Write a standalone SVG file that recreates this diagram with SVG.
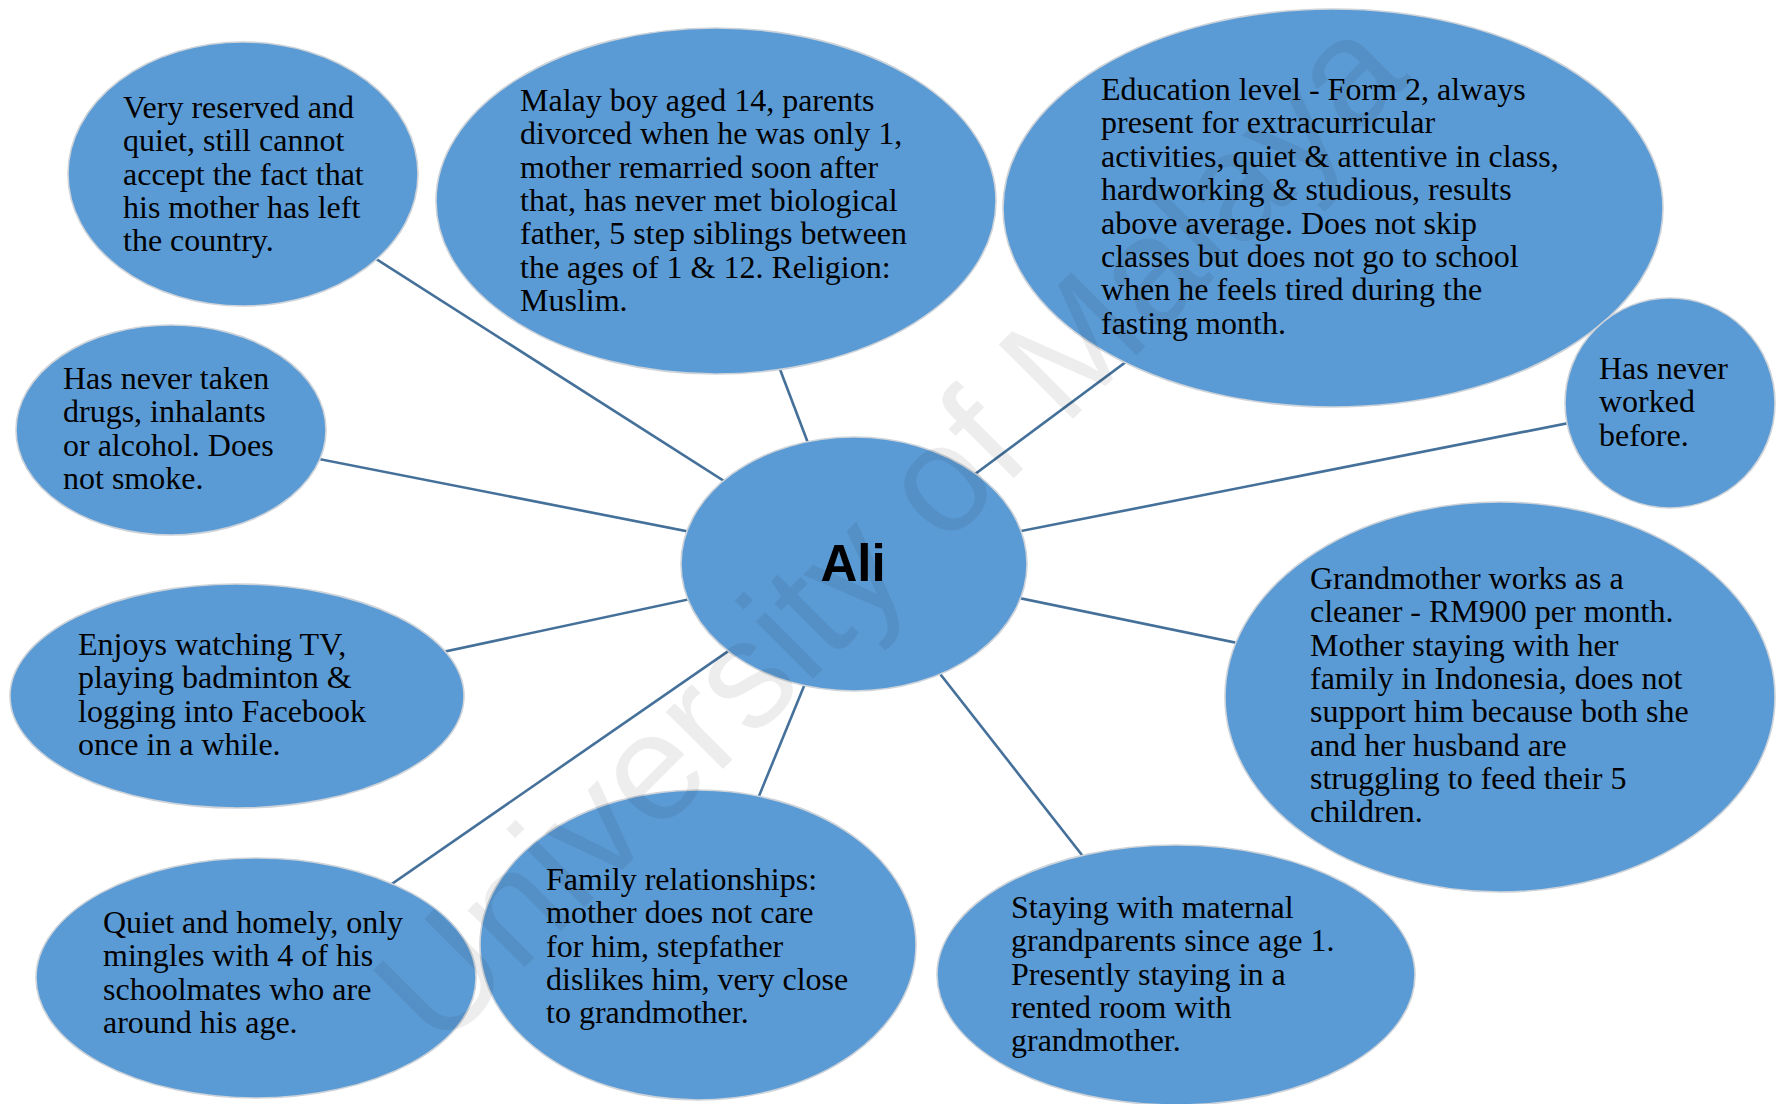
<svg xmlns="http://www.w3.org/2000/svg" width="1779" height="1104" viewBox="0 0 1779 1104">
  <style>
    .bubble { fill: #5b9bd5; stroke: #cdd3d9; stroke-width: 1.6; }
    .link { stroke: #44709a; stroke-width: 2.6; fill: none; }
    .t { font-family: "Liberation Serif", "Times New Roman", serif; font-size: 32px; fill: #000; }
    .hub { font-family: "Liberation Sans", Arial, sans-serif; font-size: 51px; font-weight: bold; fill: #000; }
    .mark { font-family: "Liberation Sans", Arial, sans-serif; font-size: 153px; fill: #000; fill-opacity: 0.07; }
  </style>
  <rect width="1779" height="1104" fill="#fff"/>

  <!-- spokes: centre of each bubble to the hub centre -->
  <g id="connectors">
    <line class="link" x1="243" y1="174" x2="854" y2="564"/>
    <line class="link" x1="716" y1="201" x2="854" y2="564"/>
    <line class="link" x1="1333" y1="208" x2="854" y2="564"/>
    <line class="link" x1="1670" y1="403" x2="854" y2="564"/>
    <line class="link" x1="171" y1="430" x2="854" y2="564"/>
    <line class="link" x1="237" y1="696" x2="854" y2="564"/>
    <line class="link" x1="1500" y1="697" x2="854" y2="564"/>
    <line class="link" x1="256" y1="978" x2="854" y2="564"/>
    <line class="link" x1="698" y1="945" x2="854" y2="564"/>
    <line class="link" x1="1176" y1="975" x2="854" y2="564"/>
  </g>

  <g id="node-reserved">
    <ellipse class="bubble" cx="243" cy="174" rx="175" ry="132"/>
    <text class="t" x="123" y="118">Very reserved and<tspan x="123" dy="33.3">quiet, still cannot</tspan><tspan x="123" dy="33.3">accept the fact that</tspan><tspan x="123" dy="33.3">his mother has left</tspan><tspan x="123" dy="33.3">the country.</tspan></text>
  </g>

  <g id="node-background">
    <ellipse class="bubble" cx="716" cy="201" rx="280" ry="173"/>
    <text class="t" x="520" y="111">Malay boy aged 14, parents<tspan x="520" dy="33.3">divorced when he was only 1,</tspan><tspan x="520" dy="33.3">mother remarried soon after</tspan><tspan x="520" dy="33.3">that, has never met biological</tspan><tspan x="520" dy="33.3">father, 5 step siblings between</tspan><tspan x="520" dy="33.3">the ages of 1 &amp; 12. Religion:</tspan><tspan x="520" dy="33.3">Muslim.</tspan></text>
  </g>

  <g id="node-education">
    <ellipse class="bubble" cx="1333" cy="208" rx="330" ry="199"/>
    <text class="t" x="1101" y="100">Education level - Form 2, always<tspan x="1101" dy="33.4">present for extracurricular</tspan><tspan x="1101" dy="33.4">activities, quiet &amp; attentive in class,</tspan><tspan x="1101" dy="33.4">hardworking &amp; studious, results</tspan><tspan x="1101" dy="33.4">above average. Does not skip</tspan><tspan x="1101" dy="33.4">classes but does not go to school</tspan><tspan x="1101" dy="33.4">when he feels tired during the</tspan><tspan x="1101" dy="33.4">fasting month.</tspan></text>
  </g>

  <g id="node-work">
    <ellipse class="bubble" cx="1670" cy="403" rx="105" ry="105"/>
    <text class="t" x="1599" y="379">Has never<tspan x="1599" dy="33.3">worked</tspan><tspan x="1599" dy="33.3">before.</tspan></text>
  </g>

  <g id="node-substances">
    <ellipse class="bubble" cx="171" cy="430" rx="155" ry="105"/>
    <text class="t" x="63" y="389">Has never taken<tspan x="63" dy="33.3">drugs, inhalants</tspan><tspan x="63" dy="33.3">or alcohol. Does</tspan><tspan x="63" dy="33.3">not smoke.</tspan></text>
  </g>

  <g id="node-ali">
    <ellipse class="bubble" cx="854" cy="564" rx="173" ry="127"/>
    <text class="hub" x="853" y="581" text-anchor="middle">Ali</text>
  </g>

  <g id="node-hobbies">
    <ellipse class="bubble" cx="237" cy="696" rx="227" ry="112"/>
    <text class="t" x="78" y="655">Enjoys watching TV,<tspan x="78" dy="33.3">playing badminton &amp;</tspan><tspan x="78" dy="33.3">logging into Facebook</tspan><tspan x="78" dy="33.3">once in a while.</tspan></text>
  </g>

  <g id="node-finances">
    <ellipse class="bubble" cx="1500" cy="697" rx="275" ry="195"/>
    <text class="t" x="1310" y="589">Grandmother works as a<tspan x="1310" dy="33.3">cleaner - RM900 per month.</tspan><tspan x="1310" dy="33.3">Mother staying with her</tspan><tspan x="1310" dy="33.3">family in Indonesia, does not</tspan><tspan x="1310" dy="33.3">support him because both she</tspan><tspan x="1310" dy="33.3">and her husband are</tspan><tspan x="1310" dy="33.3">struggling to feed their 5</tspan><tspan x="1310" dy="33.3">children.</tspan></text>
  </g>

  <g id="node-friends">
    <ellipse class="bubble" cx="256" cy="978" rx="220" ry="120"/>
    <text class="t" x="103" y="933">Quiet and homely, only<tspan x="103" dy="33.3">mingles with 4 of his</tspan><tspan x="103" dy="33.3">schoolmates who are</tspan><tspan x="103" dy="33.3">around his age.</tspan></text>
  </g>

  <g id="node-family">
    <ellipse class="bubble" cx="698" cy="945" rx="218" ry="155"/>
    <text class="t" x="546" y="890">Family relationships:<tspan x="546" dy="33.3">mother does not care</tspan><tspan x="546" dy="33.3">for him, stepfather</tspan><tspan x="546" dy="33.3">dislikes him, very close</tspan><tspan x="546" dy="33.3">to grandmother.</tspan></text>
  </g>

  <g id="node-living">
    <ellipse class="bubble" cx="1176" cy="975" rx="239" ry="130"/>
    <text class="t" x="1011" y="918">Staying with maternal<tspan x="1011" dy="33.3">grandparents since age 1.</tspan><tspan x="1011" dy="33.3">Presently staying in a</tspan><tspan x="1011" dy="33.3">rented room with</tspan><tspan x="1011" dy="33.3">grandmother.</tspan></text>
  </g>

  <!-- faint diagonal watermark over the whole sheet -->
  <text class="mark" text-anchor="middle" transform="translate(926 566) rotate(-45)">University of Malaya</text>
</svg>
